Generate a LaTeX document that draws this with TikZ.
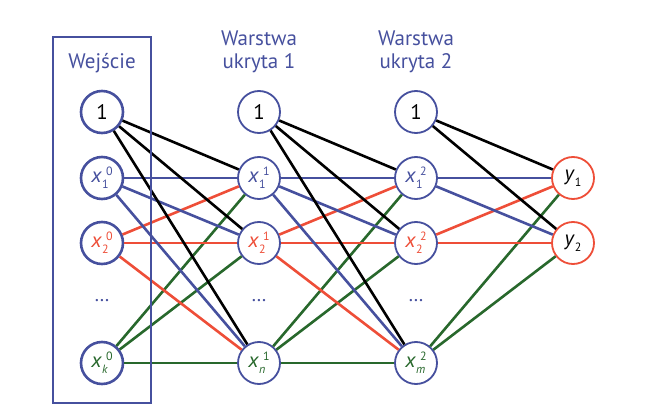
\documentclass[tikz,border=0pt]{standalone}
\usepackage{fontspec}
\setmainfont{PT Sans}
\usepackage{xcolor}
\usetikzlibrary{positioning}
\definecolor{nblue}{RGB}{70,80,158}
\definecolor{nred}{RGB}{238,78,56}
\definecolor{ngreen}{RGB}{40,104,44}
\newcommand{\subsz}{\fontsize{12}{12}\selectfont}
\newcommand{\neur}[3]{\textit{#1}\makebox[0pt][l]{\raisebox{-6pt}{\subsz#2}}\hspace{4pt}\raisebox{7pt}{\subsz#3}}
\newcommand{\outn}[1]{\textit{y}\raisebox{-6pt}{\subsz#1}}
\tikzset{
    inpt/.style={
        circle,
        line width=2.6pt,
        draw=nblue,
        fill=white,
        minimum size=42pt,
        inner sep=0pt,
        font=\fontsize{21}{21}\selectfont,
    },
    hid/.style={
        circle,
        line width=1.8pt,
        draw=nblue,
        fill=white,
        minimum size=42pt,
        inner sep=0pt,
        font=\fontsize{21}{21}\selectfont,
    },
    outpt/.style={
        hid,
        draw=nred,
    },
    dotsnode/.style={
        text=nblue,
        font=\fontsize{20}{20}\selectfont,
    },
    conn/.style={line width=2.6pt},
    title/.style={
        text=nblue,
        align=center,
        font=\fontsize{21}{23}\selectfont,
    },
}

\begin{document}
\begin{tikzpicture}[x=1pt, y=-1pt, node distance=157pt, on grid]
      \useasboundingbox (0,0) rectangle (666,414);

      % input layer
      \node[inpt] (i0) at (102,112) {1};
      \node[inpt, text=nblue, below=66pt of i0] (i1) {\neur{x}{1}{0}};
      \node[inpt, text=nred, below=65pt of i1] (i2) {\neur{x}{2}{0}};
      \node[dotsnode, below=58pt of i2] (id) {\dots};
      \node[inpt, text=ngreen, below=120pt of i2] (ik) {\neur{x}{\textit{k}}{0}};

      % hidden layer 1
      \node[hid, right=of i0] (a0) {1};
      \node[hid, text=nblue, right=of i1] (a1) {\neur{x}{1}{1}};
      \node[hid, text=nred, right=of i2] (a2) {\neur{x}{2}{1}};
      \node[dotsnode, right=of id] (ad) {\dots};
      \node[hid, text=ngreen, right=of ik] (an) {\neur{x}{\textit{n}}{1}};

      % hidden layer 2
      \node[hid, right=of a0] (b0) {1};
      \node[hid, text=nblue, right=of a1] (b1) {\neur{x}{1}{2}};
      \node[hid, text=nred, right=of a2] (b2) {\neur{x}{2}{2}};
      \node[dotsnode, right=of ad] (bd) {\dots};
      \node[hid, text=ngreen, right=of an] (bm) {\neur{x}{\textit{m}}{2}};

      % output layer
      \node[outpt, right=of b1] (y1) {\outn{1}};
      \node[outpt, right=of b2] (y2) {\outn{2}};

      % titles
      \node[title] (tin) at (102,63) {Wejście};
      \node[title] (t1) at (259,52) {Warstwa\\ukryta 1};
      \node[title] (t2) at (416,52) {Warstwa\\ukryta 2};

      % connections
      \foreach \t in {a1,a2,an} {
          \draw[conn, black] (i0) -- (\t);
          \draw[conn, nblue] (i1) -- (\t);
          \draw[conn, nred] (i2) -- (\t);
          \draw[conn, ngreen] (ik) -- (\t);
      }
      \foreach \t in {b1,b2,bm} {
          \draw[conn, black] (a0) -- (\t);
          \draw[conn, nblue] (a1) -- (\t);
          \draw[conn, nred] (a2) -- (\t);
          \draw[conn, ngreen] (an) -- (\t);
      }
      \foreach \t in {y1,y2} {
          \draw[conn, black] (b0) -- (\t);
          \draw[conn, nblue] (b1) -- (\t);
          \draw[conn, nred] (b2) -- (\t);
          \draw[conn, ngreen] (bm) -- (\t);
      }

      \draw[nblue, line width=2.5pt] (53,37) rectangle (151,403);

    \end{tikzpicture}
\end{document}
